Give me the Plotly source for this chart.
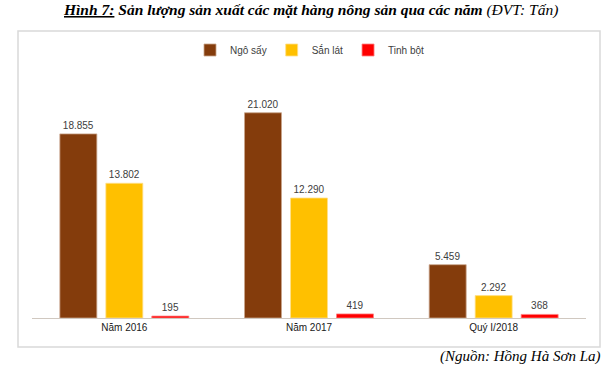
import plotly.graph_objects as go

categories = ["Năm 2016", "Năm 2017", "Quý I/2018"]
ngo_say = [18855, 21020, 5459]
san_lat = [13802, 12290, 2292]
tinh_bot = [195, 419, 368]
series_names = ["Ngô sấy", "Sắn lát", "Tinh bột"]
colors = ["#843C0C", "#FFC000", "#FF0000"]
edge_colors = ["#C9A48C", "#FFE08A", "#FF8080"]


def fmt(v):
    return f"{v:,}".replace(",", ".")


fig = go.Figure()
for name, vals, col, ec in zip(series_names, [ngo_say, san_lat, tinh_bot], colors, edge_colors):
    fig.add_trace(go.Bar(
        x=categories, y=vals, name=name,
        marker=dict(color=col, line=dict(color=ec, width=0.8)),
        text=[fmt(v) for v in vals], textposition="outside",
        textfont=dict(family="Liberation Sans", size=10, color="#404040"),
        cliponaxis=False,
    ))

W, H = 613, 368
L, R, T, B = 32, 27, 70, 50
pw, ph = W - L - R, H - T - B


def px(x):
    return (x - L) / pw


def py(y):
    return (H - B - y) / ph


fig.update_layout(
    width=W, height=H,
    margin=dict(l=L, r=R, t=T, b=B),
    paper_bgcolor="white", plot_bgcolor="white",
    barmode="group", bargap=0.253, bargroupgap=0.196,
    showlegend=True,
    legend=dict(orientation="h", x=px(310), xanchor="center", y=py(50), yanchor="middle",
                font=dict(family="Liberation Sans", size=10, color="#404040"),
                itemwidth=30, traceorder="normal"),
    xaxis=dict(showline=True, linecolor="#D0C8C0", linewidth=1, ticks="",
               tickfont=dict(family="Liberation Sans", size=10, color="#202020"),
               showgrid=False, zeroline=False),
    yaxis=dict(range=[0, 25400], visible=False, showgrid=False, zeroline=False),
    font=dict(family="Liberation Sans"),
    shapes=[dict(type="rect", xref="paper", yref="paper",
                 x0=px(18), x1=px(600), y0=py(347), y1=py(31),
                 line=dict(color="#D9D9D9", width=1.5), layer="below")],
    annotations=[
        dict(xref="paper", yref="paper", x=px(310), y=py(10), xanchor="center", yanchor="middle",
             showarrow=False,
             text="<b><i><u>Hình 7:</u> Sản lượng sản xuất các mặt hàng nông sản qua các năm</i></b> <i>(ĐVT: Tấn)</i>",
             font=dict(family="Liberation Serif", size=15.5, color="#000000")),
        dict(xref="paper", yref="paper", x=px(603), y=py(356), xanchor="right", yanchor="middle",
             showarrow=False, text="<i>(Nguồn: Hồng Hà Sơn La)</i>",
             font=dict(family="Liberation Serif", size=15, color="#000000")),
    ],
)

fig.write_html("out.html", config={"displayModeBar": False},
               post_script="document.body.style.margin='0';document.body.style.overflow='hidden';")
